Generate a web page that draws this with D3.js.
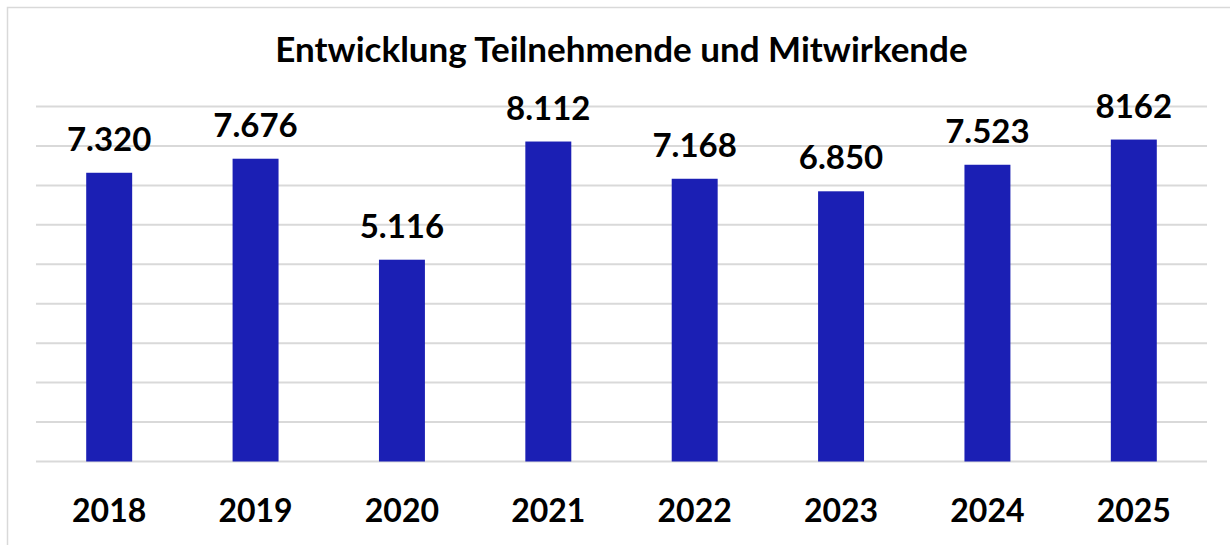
<!DOCTYPE html>
<html>
<head>
<meta charset="utf-8">
<script src="https://cdn.jsdelivr.net/npm/d3@7"></script>
<style>
  html, body { margin: 0; padding: 0; background: #fff; }
  svg { display: block; }
  text { font-family: Lato, "Open Sans", sans-serif; font-weight: bold; fill: #000; }
</style>
</head>
<body>
<script>
const categories = ["2018", "2019", "2020", "2021", "2022", "2023", "2024", "2025"];
const values = [7320, 7676, 5116, 8112, 7168, 6850, 7523, 8162];
const valueLabels = ["7.320", "7.676", "5.116", "8.112", "7.168", "6.850", "7.523", "8162"];
const gridTicks = [0, 1000, 2000, 3000, 4000, 5000, 6000, 7000, 8000, 9000];
const title = "Entwicklung Teilnehmende und Mitwirkende";

(function () {
const W = 1230, H = 545;
const svg = d3.select("body").append("svg").attr("width", W).attr("height", H);

// outer chart border
svg.append("rect")
  .attr("x", 7.5).attr("y", 7.5)
  .attr("width", W + 10).attr("height", H + 10)
  .attr("fill", "none").attr("stroke", "#d9d9d9").attr("stroke-width", 1.5);

const mLeft = 36, mRight = 1207, mTop = 106.5, mBottom = 461.5;

const x = d3.scaleBand().domain(categories).range([mLeft, mRight]).paddingInner(0.686).paddingOuter(0.343);
const y = d3.scaleLinear().domain([0, 9000]).range([mBottom, mTop]);

// gridlines
svg.append("g").selectAll("line").data(gridTicks).join("line")
  .attr("x1", mLeft).attr("x2", mRight)
  .attr("y1", d => y(d)).attr("y2", d => y(d))
  .attr("stroke", "#d9d9d9").attr("stroke-width", 2);

// bars
svg.append("g").selectAll("rect").data(values).join("rect")
  .attr("x", (d, i) => x(categories[i]))
  .attr("width", x.bandwidth())
  .attr("y", d => y(d))
  .attr("height", d => y(0) - y(d))
  .attr("fill", "#1b1fb4");

// value labels
svg.append("g").selectAll("text").data(values).join("text")
  .attr("x", (d, i) => x(categories[i]) + x.bandwidth() / 2)
  .attr("y", d => y(d) - 22)
  .attr("text-anchor", "middle")
  .style("font-size", "33px")
  .text((d, i) => valueLabels[i]);

// x-axis labels
const xAxis = d3.axisBottom(x).tickSize(0).tickPadding(0);
const gx = svg.append("g").attr("transform", `translate(0,${mBottom})`).call(xAxis);
gx.select(".domain").remove();
gx.selectAll("text")
  .attr("y", 60).attr("dy", null)
  .style("font-size", "32px")
  .style("font-family", "Lato, 'Open Sans', sans-serif")
  .style("font-weight", "bold")
  .attr("fill", "#000");

// title
svg.append("text")
  .attr("x", (mLeft + mRight) / 2)
  .attr("y", 62)
  .attr("text-anchor", "middle")
  .style("font-size", "35px")
  .text(title);
})();
</script>
</body>
</html>
